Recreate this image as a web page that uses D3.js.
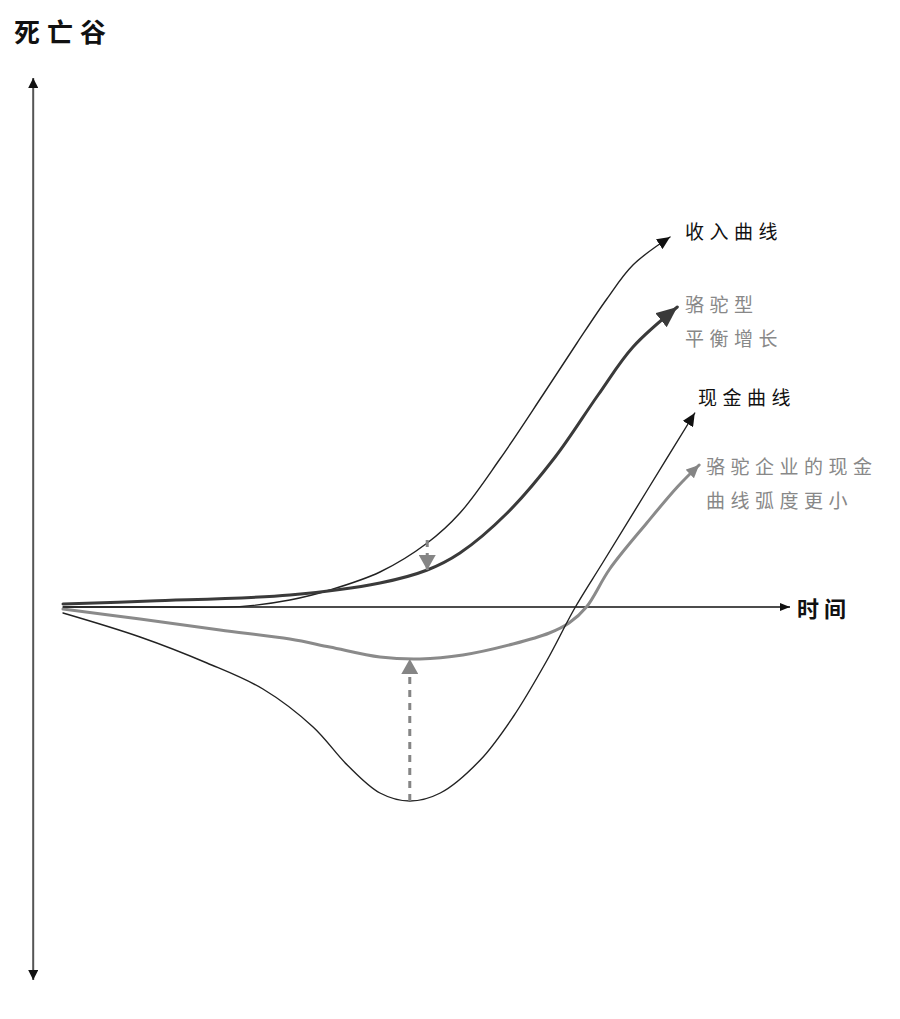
<!DOCTYPE html>
<html>
<head>
<meta charset="utf-8">
<script src="https://cdn.jsdelivr.net/npm/d3@7"></script>
<style>
  body { margin: 0; background: #fff; }
  text { font-family: "Noto Sans CJK SC", "Noto Sans", sans-serif; }
</style>
</head>
<body>
<div id="chart"></div>
<script>
// Data (time 0..100, value in arbitrary units, 0 = break-even line)
const revenueCurve = [
  [0, 0], [13.3, 0], [24.3, 0.1], [31.2, 1.75], [36.7, 4.25], [43.6, 8.75],
  [50.1, 16], [54.6, 23.5], [60.1, 37], [66.0, 53], [70.7, 66],
  [74.8, 77], [78.4, 85.5], [83.5, 92.5]
];
const camelGrowthCurve = [
  [0, 0.75], [12.0, 1.5], [31.2, 3], [43.6, 6], [50.1, 9.25], [54.6, 13.5],
  [61.1, 23.5], [67.7, 37.5], [73.6, 53], [78.4, 65], [84.5, 75]
];
const cashCurve = [
  [0, -1.5], [10.6, -7.5], [19.8, -14], [27.5, -20.5], [34.4, -30],
  [39.1, -39.5], [43.6, -46.5], [47.7, -48.5], [51.9, -46.5], [57.4, -38.25],
  [61.9, -27.5], [66.6, -13.25], [70.4, -0.25], [74.3, 11.25], [80.3, 29],
  [86.9, 48.5]
];
const camelCashCurve = [
  [0, -0.5], [10.6, -3], [21.6, -5.75], [31.2, -8], [36.7, -10],
  [43.6, -12.5], [49.1, -13], [55.0, -12], [61.9, -9.25], [66.9, -6.5],
  [69.6, -4], [72.0, 0], [75.2, 9.5], [80.3, 21], [84.5, 30], [87.5, 35.5]
];
// gap arrows: [x, from, to]
const gapArrows = [
  [50.1, 16.75, 9.25],
  [47.7, -48.5, -13]
];
const axisX = { start: 0, end: 100, at: -4.1 };
const axisY = { top: 132.25, bottom: -93.25 };

const titleText = "死亡谷";
const timeLabel = "时间";
const labels = [
  { lines: ["收入曲线"], color: "#111" },
  { lines: ["骆驼型", "平衡增长"], color: "#888" },
  { lines: ["现金曲线"], color: "#111" },
  { lines: ["骆驼企业的现金", "曲线弧度更小"], color: "#888" }
];

// Dimensions
const dimensions = { width: 900, height: 1019 };

const svg = d3.select("#chart")
  .append("svg")
  .attr("width", dimensions.width)
  .attr("height", dimensions.height);

// Scales
const xScale = d3.scaleLinear().domain([0, 100]).range([63, 790]);
const yScale = d3.scaleLinear().domain([-100, 100]).range([1007, 207]);

// Markers
const defs = svg.append("defs");
function addMarker(id, len, half, color) {
  defs.append("marker")
    .attr("id", id)
    .attr("markerUnits", "userSpaceOnUse")
    .attr("viewBox", `0 ${-half} ${len} ${half * 2}`)
    .attr("refX", len)
    .attr("refY", 0)
    .attr("markerWidth", len)
    .attr("markerHeight", half * 2)
    .attr("orient", "auto")
    .append("path")
    .attr("d", `M0,${-half}L${len},0L0,${half}Z`)
    .attr("fill", color);
}
addMarker("arrow-axis-v", 10, 5, "#111");
addMarker("arrow-axis-h", 10, 4, "#111");
addMarker("arrow-thin", 13, 6, "#111");
addMarker("arrow-big", 21, 9, "#3a3a3a");
addMarker("arrow-gray", 13, 6, "#858585");
addMarker("arrow-gap", 15, 8.5, "#858585");

// Axes
svg.append("line")
  .attr("x1", xScale(axisX.at)).attr("x2", xScale(axisX.at))
  .attr("y1", yScale(0)).attr("y2", yScale(axisY.top))
  .attr("stroke", "#555").attr("stroke-width", 2)
  .attr("marker-end", "url(#arrow-axis-v)");
svg.append("line")
  .attr("x1", xScale(axisX.at)).attr("x2", xScale(axisX.at))
  .attr("y1", yScale(0)).attr("y2", yScale(axisY.bottom))
  .attr("stroke", "#555").attr("stroke-width", 2)
  .attr("marker-end", "url(#arrow-axis-v)");
svg.append("line")
  .attr("x1", xScale(axisX.start)).attr("x2", xScale(axisX.end))
  .attr("y1", yScale(0)).attr("y2", yScale(0))
  .attr("stroke", "#111").attr("stroke-width", 1.3)
  .attr("marker-end", "url(#arrow-axis-h)");

// Curves
const line = d3.line()
  .x((d) => xScale(d[0]))
  .y((d) => yScale(d[1]))
  .curve(d3.curveCatmullRom.alpha(0.5));

const curves = [
  { data: camelCashCurve, color: "#8a8a8a", width: 3, marker: "arrow-gray" },
  { data: cashCurve, color: "#222", width: 1.4, marker: "arrow-thin" },
  { data: revenueCurve, color: "#222", width: 1.4, marker: "arrow-thin" },
  { data: camelGrowthCurve, color: "#3a3a3a", width: 3, marker: "arrow-big" }
];

svg.selectAll("path.curve")
  .data(curves)
  .join("path")
  .classed("curve", true)
  .attr("d", (d) => line(d.data))
  .attr("fill", "none")
  .attr("stroke", (d) => d.color)
  .attr("stroke-width", (d) => d.width)
  .attr("stroke-linecap", "round")
  .attr("marker-end", (d) => `url(#${d.marker})`);

// Gap arrows (dashed)
svg.selectAll("line.gap")
  .data(gapArrows)
  .join("line")
  .classed("gap", true)
  .attr("x1", (d) => xScale(d[0]))
  .attr("x2", (d) => xScale(d[0]))
  .attr("y1", (d) => yScale(d[1]))
  .attr("y2", (d) => yScale(d[2]))
  .attr("stroke", "#858585")
  .attr("stroke-width", 3)
  .attr("stroke-dasharray", "7,6")
  .attr("marker-end", "url(#arrow-gap)");

// Title
svg.append("text")
  .attr("x", 14).attr("y", 42)
  .attr("font-size", 26).attr("font-weight", "bold")
  .attr("letter-spacing", 7)
  .attr("fill", "#111")
  .text(titleText);

// Time label
svg.append("text")
  .attr("x", 797).attr("y", 617)
  .attr("font-size", 22).attr("font-weight", "bold")
  .attr("letter-spacing", 5)
  .attr("fill", "#111")
  .text(timeLabel);

// Curve labels
const labelPos = [[685, 239], [685, 312], [698, 405], [706, 474]];
const lineGap = 34;
labels.forEach((lab, i) => {
  const t = svg.append("text")
    .attr("font-size", 19)
    .attr("letter-spacing", 5.5)
    .attr("fill", lab.color);
  lab.lines.forEach((s, j) => {
    t.append("tspan")
      .attr("x", labelPos[i][0])
      .attr("y", labelPos[i][1] + j * lineGap)
      .text(s);
  });
});
</script>
</body>
</html>
